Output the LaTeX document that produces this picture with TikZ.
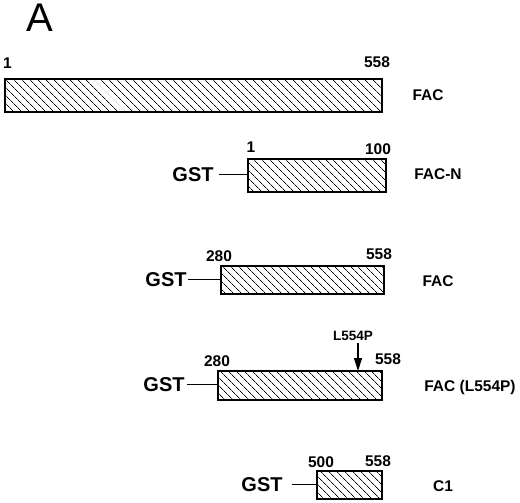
\documentclass[tikz,border=0pt]{standalone}
\usepackage{fontspec}
\setmainfont{Liberation Sans}
\usetikzlibrary{patterns.meta,arrows.meta}
\tikzset{
  hbox/.style={draw, line width=1.4pt, inner sep=0pt, outer sep=0pt, anchor=north west,
    pattern={Lines[angle=-45, distance=5.4pt, line width=0.7pt]}},
  num/.style={font=\fontsize{15.5}{16}\selectfont\bfseries, inner sep=0pt, anchor=base},
  lbl/.style={font=\fontsize{15.5}{16}\selectfont\bfseries, inner sep=0pt, anchor=base},
  gst/.style={font=\fontsize{20}{21}\selectfont\bfseries, inner sep=0pt, anchor=base},
  link/.style={line width=1.2pt},
  mutarrow/.style={line width=1.3pt, -{Triangle[length=13pt, width=8pt]}}
}
\begin{document}
\begin{tikzpicture}[x=1pt, y=-1pt]
\path[use as bounding box] (0,0) rectangle (520,503);

\node[font=\fontsize{40}{40}\selectfont, inner sep=0pt, anchor=base] (panel) at (40,32) {A};

% Row 1: FAC
\node[hbox, minimum width=377pt, minimum height=33pt] (b1) at (5,79) {};
\node[num, anchor=base west] (b1s) at (3,68.5) {1};
\node[num] (b1e) at (377,68) {558};
\node[lbl] (l1) at (428,100) {FAC};

% Row 2: FAC-N
\node[hbox, minimum width=138pt, minimum height=33pt] (b2) at (248,159) {};
\node[num] (b2s) at (251,152) {1};
\node[num] (b2e) at (378,154) {100};
\node[gst] (g2) at (193,181) {GST};
\node[lbl] (l2) at (438,179) {FAC-N};
\draw[link, shorten <=5pt] (g2.east) -- (g2.east -| b2.west);

% Row 3: FAC 280-558
\node[hbox, minimum width=163pt, minimum height=28pt] (b3) at (221,266) {};
\node[num] (b3s) at (219,261.5) {280};
\node[num] (b3e) at (379,259) {558};
\node[gst] (g3) at (166,286.5) {GST};
\node[lbl] (l3) at (438,286.5) {FAC};
\draw[link, shorten <=1pt] (g3.east) -- (g3.east -| b3.west);

% Row 4: FAC (L554P)
\node[hbox, minimum width=164pt, minimum height=29pt] (b4) at (218,371) {};
\node[num] (b4s) at (217,366) {280};
\node[num] (b4e) at (388,364) {558};
\node[gst] (g4) at (164,391.5) {GST};
\node[lbl] (l4) at (470,391.5) {FAC (L554P)};
\draw[link, shorten <=2pt] (g4.east) -- (g4.east -| b4.west);
\node[font=\fontsize{13.5}{14}\selectfont\bfseries, inner sep=0pt, anchor=base] (mut) at (353,340) {L554P};
\coordinate (mutpt) at (358,371);
\draw[mutarrow] ([yshift=-3pt]mut.south -| mutpt) -- (mutpt);

% Row 5: C1
\node[hbox, minimum width=65pt, minimum height=28pt] (b5) at (317,471) {};
\node[num] (b5s) at (321,467) {500};
\node[num] (b5e) at (378,466.5) {558};
\node[gst] (g5) at (262,491.5) {GST};
\node[lbl] (l5) at (443,491.5) {C1};
\draw[link, shorten <=9pt] (g5.east) -- (g5.east -| b5.west);
\end{tikzpicture}
\end{document}
